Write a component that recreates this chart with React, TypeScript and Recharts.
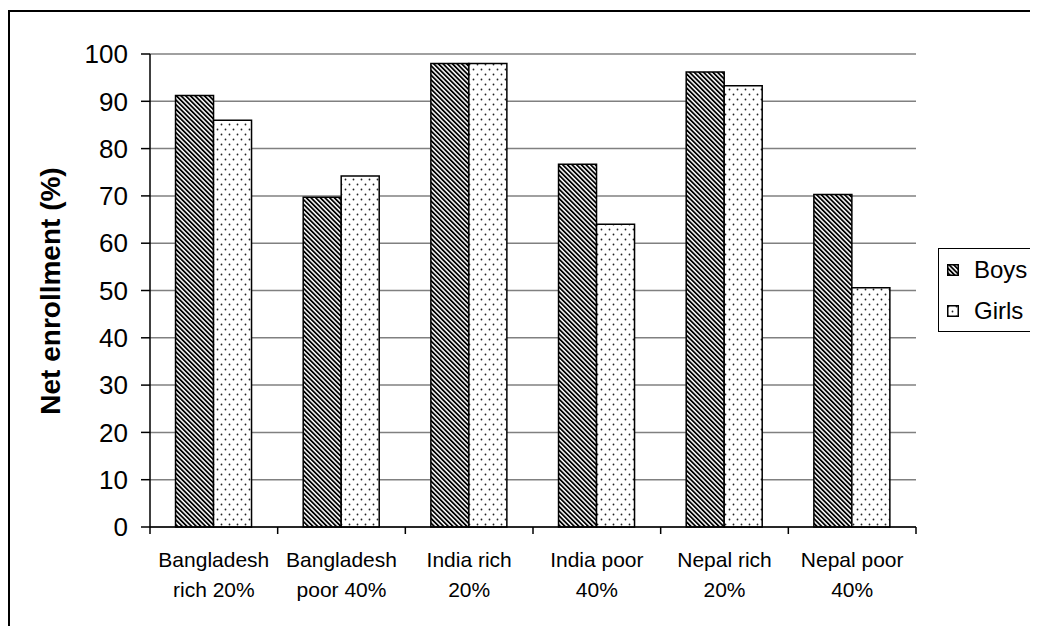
import { BarChart, Bar, XAxis, YAxis, CartesianGrid } from "recharts";

const categories = [
  "Bangladesh\nrich 20%",
  "Bangladesh\npoor 40%",
  "India rich\n20%",
  "India poor\n40%",
  "Nepal rich\n20%",
  "Nepal poor\n40%",
];
const boys = [91.2, 69.7, 98.0, 76.7, 96.2, 70.3];
const girls = [86.0, 74.2, 98.0, 64.0, 93.3, 50.6];
const yTicks = [0, 10, 20, 30, 40, 50, 60, 70, 80, 90, 100];
const series = [
  { key: "boys", label: "Boys", pattern: "boysPat" },
  { key: "girls", label: "Girls", pattern: "girlsPat" },
];

const data = categories.map((name, i) => ({ name, boys: boys[i], girls: girls[i] }));

const FONT = "'Liberation Sans', Arial, sans-serif";

function CategoryTick(props: any) {
  const { x, y, payload, index } = props;
  const half = payload && typeof payload.offset === "number" && payload.offset > 0 ? payload.offset : 766 / 12;
  const lines = String(payload.value).split("\n");
  return (
    <g>
      <line x1={x - half} x2={x - half} y1={y - 7} y2={y} stroke="#000" strokeWidth={1.5} />
      {index === categories.length - 1 && (
        <line x1={x + half} x2={x + half} y1={y - 7} y2={y} stroke="#000" strokeWidth={1.5} />
      )}
      {lines.map((t: string, i: number) => (
        <text key={i} x={x} y={y + 33 + i * 30} textAnchor="middle" fontSize={21} fontFamily={FONT} fill="#000">
          {t}
        </text>
      ))}
    </g>
  );
}

function Swatch({ id }: { id: string }) {
  return (
    <svg width={12} height={12} style={{ display: "block", flex: "none" }}>
      <rect x={0.75} y={0.75} width={10.5} height={10.5} fill={`url(#${id})`} stroke="#000" strokeWidth={1.5} />
    </svg>
  );
}

function LegendBox() {
  return (
    <div
      style={{
        position: "absolute",
        left: 930,
        top: 240,
        border: "1px solid #000",
        background: "#fff",
        width: 160,
        height: 82,
        fontFamily: FONT,
        fontSize: 24,
        color: "#000",
      }}
    >
      {series.map((it) => (
        <div key={it.label} style={{ height: 41, display: "flex", alignItems: "center", paddingLeft: 8 }}>
          <Swatch id={it.pattern} />
          <span style={{ marginLeft: 15 }}>{it.label}</span>
        </div>
      ))}
    </div>
  );
}

export default function App() {
  return (
    <div style={{ position: "relative", width: 1100, height: 640, background: "#fff" }}>
      <style>{"html, body { overflow: hidden; }"}</style>
      <div
        style={{
          position: "absolute",
          left: 0,
          top: 2,
          width: 1100,
          height: 700,
          borderTop: "2px solid #000",
          borderLeft: "2px solid #000",
        }}
      />
      <div style={{ position: "absolute", left: 0, top: 0 }}>
        <BarChart
          width={1100}
          height={640}
          data={data}
          margin={{ top: 46, right: 192, left: 0, bottom: 61 }}
          barCategoryGap="20%"
          barGap={0}
        >
          <defs>
            <pattern id="boysPat" width={3.3} height={3.3} patternUnits="userSpaceOnUse" patternTransform="rotate(-45)">
              <rect width={3.3} height={3.3} fill="#fff" />
              <rect width={1.8} height={3.3} fill="#000" />
            </pattern>
            <pattern id="girlsPat" width={8} height={10} patternUnits="userSpaceOnUse">
              <rect width={8} height={10} fill="#fff" />
              <circle cx={1.5} cy={1.5} r={0.9} fill="#222" />
              <circle cx={5.5} cy={6.5} r={0.9} fill="#222" />
            </pattern>
          </defs>
          <CartesianGrid vertical={false} stroke="#808080" strokeWidth={1.5} />
          <XAxis
            dataKey="name"
            height={60}
            tickLine={false}
            tickSize={7}
            tickMargin={0}
            axisLine={{ stroke: "#000", strokeWidth: 1.5 }}
            tick={<CategoryTick />}
            interval={0}
          />
          <YAxis
            width={142}
            domain={[0, 100]}
            ticks={yTicks}
            interval={0}
            tickSize={9}
            tickMargin={13}
            axisLine={{ stroke: "#000", strokeWidth: 1.5 }}
            tickLine={{ stroke: "#000", strokeWidth: 1.5 }}
            tick={{ fontSize: 26, fontFamily: FONT, fill: "#000" }}
            label={{
              content: () => (
                <text
                  x={42}
                  y={283}
                  transform="rotate(-90, 42, 283)"
                  textAnchor="middle"
                  dominantBaseline="central"
                  fontSize={28}
                  fontWeight="bold"
                  fontFamily={FONT}
                  fill="#000"
                >
                  Net enrollment (%)
                </text>
              ),
            }}
          />
          <YAxis
            yAxisId="frame"
            orientation="right"
            width={0}
            tick={false}
            tickLine={false}
            axisLine={{ stroke: "#808080", strokeWidth: 1.5 }}
          />
          {series.map((s) => (
            <Bar
              key={s.key}
              dataKey={s.key}
              name={s.label}
              fill={`url(#${s.pattern})`}
              stroke="#000"
              strokeWidth={1.5}
              isAnimationActive={false}
            />
          ))}
        </BarChart>
      </div>
      <LegendBox />
    </div>
  );
}
